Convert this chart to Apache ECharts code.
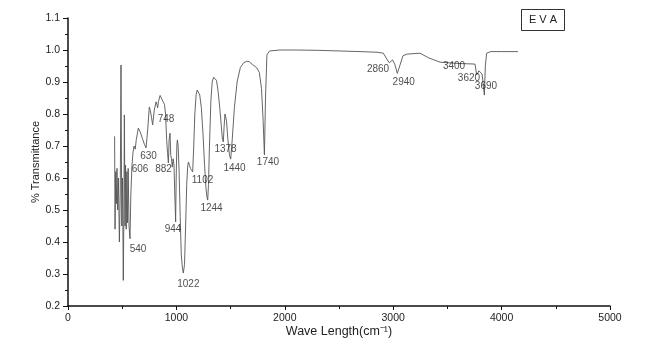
<!DOCTYPE html>
<html>
<head>
<meta charset="utf-8">
<script src="https://cdn.jsdelivr.net/npm/echarts@6/dist/echarts.min.js"></script>
<style>
    html, body {margin: 0; padding: 0; background: #fff;}
    #ir_chart {width: 649px; height: 354px;}
</style>
</head>
<body>
<div id="ir_chart"></div>
<script>
// spectrum: wave number / transmittance
var waveNumbers = [430, 434, 440, 446, 452, 458, 465, 474, 482, 489, 496, 503, 510, 516, 520, 526, 531, 537, 543, 549, 555, 563, 572, 580, 590, 600, 609, 620, 630, 649, 665, 690, 705, 720, 735, 750, 760, 770, 781, 795, 812, 820, 827, 835, 850, 862, 875, 890, 900, 910, 918, 926, 933, 941, 948, 955, 962, 970, 978, 985, 993, 998, 1004, 1009, 1016, 1025, 1035, 1045, 1055, 1064, 1075, 1085, 1095, 1105, 1112, 1120, 1130, 1140, 1150, 1160, 1170, 1182, 1192, 1202, 1215, 1230, 1245, 1260, 1272, 1282, 1289, 1296, 1305, 1318, 1330, 1343, 1356, 1370, 1385, 1400, 1415, 1425, 1433, 1440, 1448, 1455, 1462, 1475, 1490, 1501, 1515, 1535, 1560, 1590, 1620, 1650, 1673, 1700, 1740, 1765, 1785, 1800, 1812, 1822, 1835, 1860, 1956, 2100, 2300, 2500, 2694, 2850, 2909, 2935, 2964, 2980, 2995, 3015, 3038, 3060, 3090, 3124, 3247, 3330, 3432, 3600, 3755, 3770, 3791, 3805, 3820, 3841, 3850, 3862, 3900, 4000, 4151];
var transmittance = [0.73, 0.44, 0.62, 0.52, 0.63, 0.50, 0.60, 0.40, 0.55, 0.953, 0.45, 0.60, 0.28, 0.50, 0.797, 0.45, 0.64, 0.44, 0.62, 0.46, 0.63, 0.45, 0.41, 0.55, 0.64, 0.68, 0.70, 0.69, 0.72, 0.756, 0.745, 0.72, 0.705, 0.694, 0.75, 0.822, 0.81, 0.79, 0.766, 0.81, 0.838, 0.83, 0.819, 0.84, 0.858, 0.855, 0.84, 0.83, 0.80, 0.72, 0.68, 0.647, 0.72, 0.74, 0.67, 0.66, 0.634, 0.66, 0.64, 0.55, 0.463, 0.60, 0.70, 0.719, 0.70, 0.62, 0.48, 0.36, 0.32, 0.303, 0.33, 0.45, 0.58, 0.64, 0.65, 0.64, 0.63, 0.63, 0.619, 0.70, 0.80, 0.86, 0.875, 0.875, 0.86, 0.82, 0.74, 0.64, 0.57, 0.54, 0.531, 0.58, 0.70, 0.84, 0.90, 0.915, 0.916, 0.905, 0.87, 0.82, 0.76, 0.72, 0.713, 0.76, 0.80, 0.806, 0.78, 0.72, 0.67, 0.659, 0.72, 0.82, 0.90, 0.945, 0.96, 0.965, 0.963, 0.955, 0.945, 0.93, 0.88, 0.78, 0.672, 0.85, 0.985, 0.997, 1.0, 1.0, 0.999, 0.997, 0.995, 0.993, 0.99, 0.975, 0.96, 0.965, 0.969, 0.955, 0.927, 0.95, 0.982, 0.987, 0.99, 0.975, 0.962, 0.958, 0.956, 0.922, 0.935, 0.93, 0.925, 0.859, 0.95, 0.99, 0.995, 0.995, 0.995];

// peak annotations: text and where it sits
var peakLabels = ['540', '606', '630', '748', '882', '944', '1022', '1102', '1244', '1378', '1440', '1740', '2860', '2940', '3400', '3620', '3690'];
var peakLabelX = [646, 664, 743, 904, 881, 969, 1110, 1241, 1324, 1453, 1536, 1845, 2860, 3097, 3561, 3699, 3856];
var peakLabelY = [0.378, 0.628, 0.669, 0.784, 0.628, 0.441, 0.269, 0.594, 0.506, 0.691, 0.631, 0.648, 0.94, 0.899, 0.95, 0.912, 0.888];

var xTicks = [0, 1000, 2000, 3000, 4000, 5000];
var yTicks = [0.2, 0.3, 0.4, 0.5, 0.6, 0.7, 0.8, 0.9, 1.0, 1.1];

function getIrChart() {
    var box = document.getElementById('ir_chart')
    var instance = echarts.init(box)

    var lineData = waveNumbers.map(function (w, i) { return [w, transmittance[i]] })
    var labelData = peakLabels.map(function (t, i) {
        return {name: t, value: [peakLabelX[i], peakLabelY[i]]}
    })
    var font = 'Liberation Sans, Arial, sans-serif'

    let option = {
        animation: false,
        backgroundColor: '#fff',
        grid: {
            left: 68,
            right: 39,
            top: 18,
            bottom: 48
        },
        xAxis: {
            type: 'value',
            min: xTicks[0],
            max: xTicks[xTicks.length - 1],
            interval: 1000,
            name: 'Wave Length(cm\u207B\u00B9)',
            nameLocation: 'middle',
            nameGap: 19,
            nameMoveOverlap: false,
            nameTextStyle: {color: '#222', fontSize: 12.5, fontFamily: font},
            axisLine: {lineStyle: {color: '#111', width: 1.5}},
            axisTick: {show: true, length: 4, lineStyle: {color: '#111'}},
            minorTick: {show: true, splitNumber: 2, length: 3, lineStyle: {color: '#111'}},
            axisLabel: {
                color: '#222',
                fontSize: 10.5,
                fontFamily: font,
                margin: 7,
                formatter: function (v) { return String(v) }
            },
            splitLine: {show: false}
        },
        yAxis: {
            type: 'value',
            min: yTicks[0],
            max: yTicks[yTicks.length - 1],
            interval: 0.1,
            name: '% Transmittance',
            nameLocation: 'middle',
            nameGap: 27,
            nameMoveOverlap: false,
            nameTextStyle: {color: '#222', fontSize: 11, fontFamily: font},
            axisLine: {show: true, lineStyle: {color: '#111', width: 1.5}},
            axisTick: {show: true, length: 5, lineStyle: {color: '#111'}},
            minorTick: {show: true, splitNumber: 2, length: 3, lineStyle: {color: '#111'}},
            axisLabel: {
                color: '#222',
                fontSize: 10.5,
                fontFamily: font,
                margin: 8,
                formatter: function (v) { return v.toFixed(1) }
            },
            splitLine: {show: false}
        },
        graphic: [{
            type: 'group',
            right: 84,
            top: 9,
            children: [{
                type: 'rect',
                shape: {x: 0, y: 0, width: 43, height: 21},
                style: {fill: '#fff', stroke: '#333', lineWidth: 1}
            }, {
                type: 'text',
                x: 21.5,
                y: 10.5,
                style: {
                    text: 'E V A',
                    fill: '#222',
                    font: '11px Liberation Sans, Arial, sans-serif',
                    textAlign: 'center',
                    textVerticalAlign: 'middle'
                }
            }]
        }],
        series: [{
            type: 'line',
            data: lineData,
            symbol: 'none',
            lineStyle: {color: '#555', width: 0.9},
            z: 2
        }, {
            type: 'scatter',
            data: labelData,
            symbolSize: 0,
            silent: true,
            label: {
                show: true,
                position: 'inside',
                formatter: '{b}',
                color: '#222',
                fontSize: 10,
                fontFamily: font
            },
            z: 3
        }]
    };
    instance.setOption(option)
}

getIrChart()
</script>
</body>
</html>
